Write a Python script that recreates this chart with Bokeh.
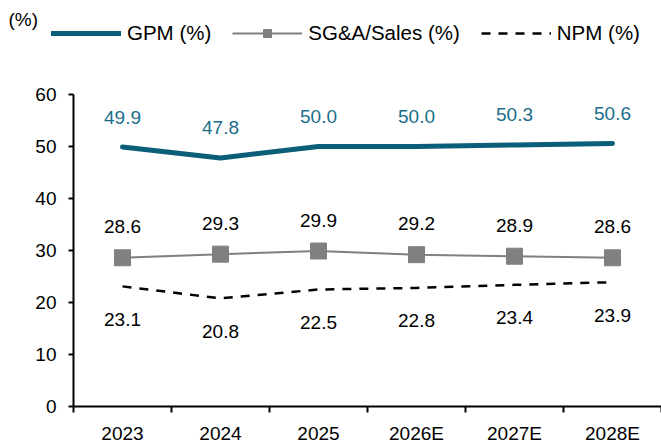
from bokeh.plotting import figure
from bokeh.models import Range1d, FixedTicker, Legend, LegendItem, Label, ColumnDataSource
from bokeh.embed import file_html
from bokeh.resources import INLINE
from bokeh.core.properties import value

# ---- data ----
years = ["2023", "2024", "2025", "2026E", "2027E", "2028E"]
gpm = [49.9, 47.8, 50.0, 50.0, 50.3, 50.6]
sga = [28.6, 29.3, 29.9, 29.2, 28.9, 28.6]
npm = [23.1, 20.8, 22.5, 22.8, 23.4, 23.9]
y_ticks = [0, 10, 20, 30, 40, 50, 60]

FONT = "Liberation Sans"
TEAL = "#0B5E78"
TEAL_TXT = "#1A6E8A"
GREY = "#808080"

xs = [i + 0.5 for i in range(len(years))]
src = ColumnDataSource(dict(
    x=xs, gpm=gpm, sga=sga, npm=npm,
    gpm_l=[f"{v:.1f}" for v in gpm],
    sga_l=[f"{v:.1f}" for v in sga],
    npm_l=[f"{v:.1f}" for v in npm],
))

# layout: the axes sit inside the canvas at fixed pixel positions
W, H = 661, 445
AXIS_X = 73    # pixel column of the value axis
TOP_Y = 94     # pixel row of the top tick
BOT_Y = 406    # pixel row of the category axis
n = len(years)
x_start = -n * AXIS_X / (W - AXIS_X)
ppu = (BOT_Y - TOP_Y) / (y_ticks[-1] - y_ticks[0])
y_start = y_ticks[0] - (H - BOT_Y) / ppu
y_end = y_ticks[-1] + TOP_Y / ppu

p = figure(width=W, height=H, output_backend="svg", toolbar_location=None,
           x_range=Range1d(x_start, n), y_range=Range1d(y_start, y_end),
           min_border=0)
p.title.visible = False
p.outline_line_color = None
p.grid.visible = False
p.background_fill_color = "white"
p.border_fill_color = "white"

# axes
p.xaxis.ticker = FixedTicker(ticks=xs, minor_ticks=list(range(n + 1)))
p.xaxis.major_label_overrides = {x: y for x, y in zip(xs, years)}
p.xaxis.bounds = (0, n)
p.xaxis.fixed_location = y_ticks[0]
p.xaxis.major_tick_out = 0
p.xaxis.major_tick_in = 0
p.xaxis.minor_tick_out = 6
p.xaxis.minor_tick_in = 0
p.xaxis.minor_tick_line_width = 2
p.xaxis.minor_tick_line_color = "black"
p.xaxis.major_label_standoff = 10

p.yaxis.ticker = FixedTicker(ticks=y_ticks)
p.yaxis.bounds = (y_ticks[0], y_ticks[-1])
p.yaxis.fixed_location = 0
p.yaxis.major_tick_out = 5
p.yaxis.major_tick_in = 0
p.yaxis.minor_tick_line_color = None
p.yaxis.major_label_standoff = 12

for ax in (p.xaxis, p.yaxis):
    ax.axis_line_width = 2
    ax.axis_line_color = "black"
    ax.major_tick_line_width = 2
    ax.major_tick_line_color = "black"
    ax.major_label_text_font = FONT
    ax.major_label_text_font_size = "19px"
    ax.major_label_text_color = "black"

# series
r_gpm = p.line("x", "gpm", source=src, line_color=TEAL, line_width=5,
               line_cap="round", line_join="round")
r_sga = p.line("x", "sga", source=src, line_color=GREY, line_width=2)
r_sga_m = p.scatter("x", "sga", source=src, marker="square", size=16,
                    fill_color=GREY, line_color=GREY)
r_npm = p.line("x", "npm", source=src, line_color="black", line_width=2.5,
               line_dash="9 8")

# data labels
common = dict(source=src, text_align="center", text_baseline="middle",
              text_font=value(FONT), text_font_size="19px")
p.text(x="x", y="gpm", text="gpm_l", y_offset=-30, text_color=TEAL_TXT, **common)
p.text(x="x", y="sga", text="sga_l", y_offset=-31, text_color="black", **common)
p.text(x="x", y="npm", text="npm_l", y_offset=33, text_color="black", **common)

# legend (top of the plotting area)
legend = Legend(items=[
    LegendItem(label="GPM (%)", renderers=[r_gpm]),
    LegendItem(label="SG&A/Sales (%)", renderers=[r_sga, r_sga_m]),
    LegendItem(label="NPM (%)", renderers=[r_npm]),
], orientation="horizontal", location=(51, H - 45), padding=0, margin=0,
    spacing=21, glyph_width=70, glyph_height=20, label_standoff=6,
    label_text_font=FONT, label_text_font_size="20.5px", label_text_color="black",
    border_line_color=None, background_fill_alpha=0)
p.add_layout(legend, "center")

# unit label
p.add_layout(Label(x=8, y=H - 8, x_units="screen", y_units="screen", text="(%)",
                   text_baseline="top", text_font=FONT, text_font_size="19px",
                   text_color="black"))

open("out.html", "w").write(file_html(p, INLINE))
